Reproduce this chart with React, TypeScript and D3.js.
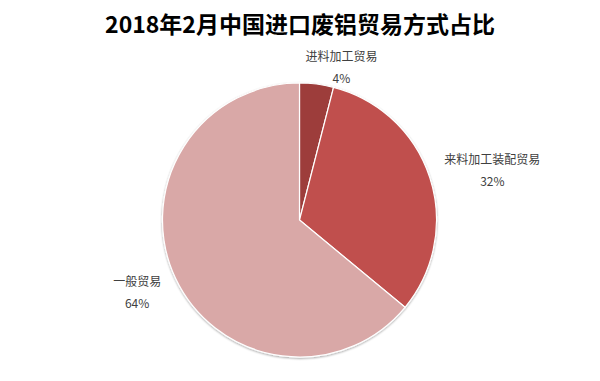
import React from "react";
import * as d3 from "d3";

const categories = ["进料加工贸易", "来料加工装配贸易", "一般贸易"];
const values = [4, 32, 64];
const colors = ["#9d3c3b", "#c0504d", "#d9a8a7"];
// label placement (layout only): radial distance and tweaks
const labelRadius = [158, 199, 178];
const labelAngleShift = [8.2, 3.7, 1.0];

const W = 600;
const H = 381;
const cx = 299.5;
const cy = 220;
const R = 137;

export default function App() {
  const pie = d3.pie<number>().sort(null).value((d) => d)(values);
  const arc = d3.arc<d3.PieArcDatum<number>>().innerRadius(0).outerRadius(R);
  const total = d3.sum(values);
  return (
    <svg width={W} height={H} style={{ position: "absolute", left: 0, top: 0, background: "#fff" }}>
      <defs>
        <filter id="sh" x="-10%" y="-10%" width="120%" height="120%">
          <feGaussianBlur in="SourceAlpha" stdDeviation="1.2" />
          <feOffset dx="0" dy="0.5" />
          <feComponentTransfer>
            <feFuncA type="linear" slope="0.35" />
          </feComponentTransfer>
          <feMerge>
            <feMergeNode />
            <feMergeNode in="SourceGraphic" />
          </feMerge>
        </filter>
      </defs>
      <text
        x={W / 2}
        y={33}
        textAnchor="middle"
        fontFamily="'Noto Sans CJK SC', sans-serif"
        fontWeight="bold"
        fontSize={23}
        fill="#000"
      >
        2018年2月中国进口废铝贸易方式占比
      </text>
      <g transform={`translate(${cx},${cy})`} filter="url(#sh)">
        {pie.map((p, i) => (
          <path key={i} d={arc(p) || ""} fill={colors[i]} stroke="#fff" strokeWidth={1.2} />
        ))}
      </g>
      <g fontFamily="'Noto Sans CJK SC', sans-serif" fontSize={12} fill="#404040" textAnchor="middle">
        {pie.map((p, i) => {
          const mid = (p.startAngle + p.endAngle) / 2 + (labelAngleShift[i] * Math.PI) / 180;
          const x = cx + labelRadius[i] * Math.sin(mid);
          const y = cy - labelRadius[i] * Math.cos(mid);
          const pct = Math.round((values[i] / total) * 100) + "%";
          return (
            <g key={i}>
              <text x={x} y={y - 7}>{categories[i]}</text>
              <text x={x} y={y + 15}>{pct}</text>
            </g>
          );
        })}
      </g>
    </svg>
  );
}
